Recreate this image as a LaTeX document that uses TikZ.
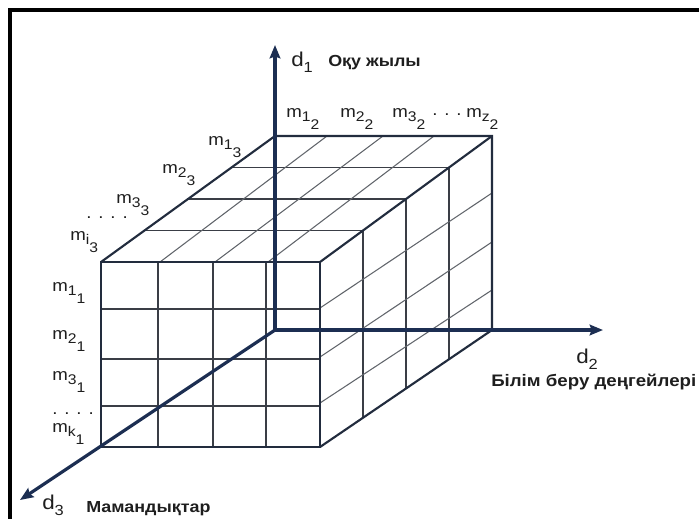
\documentclass[tikz,border=0pt]{standalone}
\usepackage{fontspec}
\setmainfont{Liberation Sans}[FakeStretch=1.12]
\usetikzlibrary{calc,arrows.meta}
\definecolor{axisnavy}{RGB}{28,46,82}
\definecolor{cubenavy}{RGB}{34,44,62}
\definecolor{gridgray}{RGB}{58,62,70}
\definecolor{labblack}{RGB}{30,30,30}
\tikzset{
  framebar/.style={draw=black,line width=2.3pt},
  cubeline/.style={draw=cubenavy,line width=1.6pt},
  gridline/.style={draw=gridgray,line width=1.1pt},
  hatchline/.style={draw=gridgray!80,line width=0.8pt},
  axisline/.style={draw=axisnavy,line width=2.4pt,-{Stealth[length=10pt,width=8pt,inset=1.5pt]}},
  mlabel/.style={inner sep=0pt,anchor=base west,text=labblack,font=\fontsize{12.5}{14}\selectfont},
  dotlabel/.style={mlabel,text height=2pt,text depth=0pt},
  dlabel/.style={inner sep=0pt,anchor=base west,text=labblack,font=\fontsize{15}{17}\selectfont},
  namelabel/.style={inner sep=0pt,anchor=base west,text=labblack,font=\bfseries\fontsize{12}{14}\selectfont},
}
\newcommand{\mlab}[2]{m\raisebox{-3pt}{\fontsize{10.5}{11}\selectfont #1\raisebox{-6pt}{#2}}}
\newcommand{\dlab}[1]{d\raisebox{-4.5pt}{\fontsize{11}{11}\selectfont #1}}

\begin{document}
\begin{tikzpicture}[x=0.75pt,y=-0.75pt]
  \useasboundingbox (0,0) rectangle (699,519);
  % frame
  \draw[framebar] (699,10) -- (10,10) -- (10,519);
  % cube corners
  \coordinate (F1) at (101,262); \coordinate (F2) at (320,262);
  \coordinate (F3) at (320,447); \coordinate (F4) at (101,447);
  \coordinate (B1) at (275,136); \coordinate (B2) at (492,136);
  \coordinate (B3) at (492,330); \coordinate (O) at (275,330);
  % front face
  \foreach \x in {158,213,266} \draw[gridline] (\x,262) -- (\x,447);
  \foreach \y in {309,359,406} \draw[gridline] (101,\y) -- (320,\y);
  % top face
  \foreach \t in {0.25,0.5,0.75} \draw[gridline] ($(F1)!\t!(B1)$) -- ($(F2)!\t!(B2)$);
  \foreach \a/\b in {160/327,215/383,268/434} \draw[hatchline] (\a,262) -- (\b,136);
  % right face
  \foreach \t in {0.25,0.5,0.75} \draw[gridline] ($(F2)!\t!(B2)$) -- ($(F3)!\t!(B3)$);
  \foreach \a/\b in {308/193,357/242,403/290} \draw[hatchline] (320,\a) -- (492,\b);
  % cube edges
  \draw[cubeline] (F1) rectangle (F3);
  \draw[cubeline] (F1) -- (B1) -- (B2) -- (B3) -- (F3);
  \draw[cubeline] (F2) -- (B2);
  % axes
  \coordinate (d1tip) at (275,45);
  \coordinate (d2tip) at (603,330);
  \coordinate (d3tip) at (20,500);
  \draw[axisline] (O) -- (d1tip);
  \draw[axisline] (O) -- (d2tip);
  \draw[axisline] (O) -- (d3tip);
  % axis labels
  \node[dlabel] (d1) at (291,66) {\dlab{1}};
  \node[namelabel] (d1name) at (328,66) {Оқу жылы};
  \node[dlabel] (d2) at (576,363) {\dlab{2}};
  \node[namelabel,font=\bfseries\fontsize{12.5}{14}\selectfont] (d2name) at (491,386) {Білім беру деңгейлері};
  \node[dlabel] (d3) at (42,509) {\dlab{3}};
  \node[namelabel] (d3name) at (86,512) {Мамандықтар};
  % top labels
  \node[mlabel] (m12) at (286,117) {\mlab{1}{2}};
  \node[mlabel] (m22) at (340,117) {\mlab{2}{2}};
  \node[mlabel] (m32) at (392,117) {\mlab{3}{2}};
  \node[dotlabel] (dots2) at (432,115) {. . .};
  \node[mlabel] (mz2) at (466,117) {\mlab{z}{2}};
  % depth labels
  \node[mlabel] (m13) at (208,145) {\mlab{1}{3}};
  \node[mlabel] (m23) at (162,173) {\mlab{2}{3}};
  \node[mlabel] (m33) at (116,203) {\mlab{3}{3}};
  \node[dotlabel] (dots3) at (86,218) {. . . .};
  \node[mlabel] (mi3) at (70,240) {\mlab{i}{3}};
  % side labels
  \node[mlabel] (m11) at (52,291) {\mlab{1}{1}};
  \node[mlabel] (m21) at (52,339) {\mlab{2}{1}};
  \node[mlabel] (m31) at (52,380) {\mlab{3}{1}};
  \node[dotlabel] (dots1) at (52,414) {. . . .};
  \node[mlabel] (mk1) at (52,432) {\mlab{k}{1}};
\end{tikzpicture}
\end{document}
